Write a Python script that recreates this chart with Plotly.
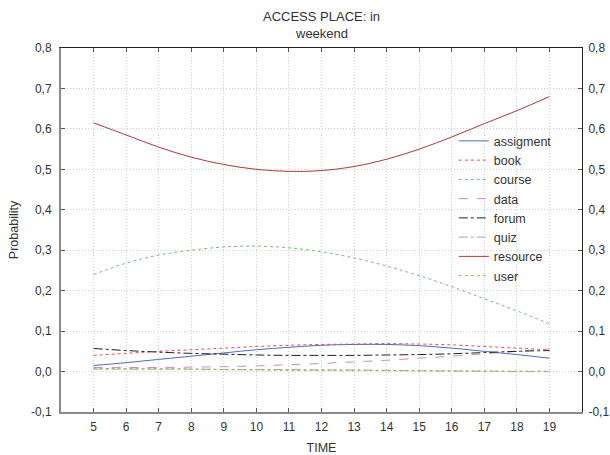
import plotly.graph_objects as go

# Hour of day
time = list(range(5, 20))

assigment = [0.015, 0.022, 0.030, 0.038, 0.046, 0.054, 0.060, 0.065, 0.067, 0.067, 0.064, 0.058, 0.050, 0.042, 0.033]
book      = [0.040, 0.045, 0.050, 0.054, 0.058, 0.062, 0.065, 0.067, 0.068, 0.069, 0.068, 0.066, 0.062, 0.058, 0.054]
course    = [0.240, 0.268, 0.288, 0.300, 0.308, 0.310, 0.306, 0.296, 0.281, 0.261, 0.237, 0.210, 0.180, 0.150, 0.118]
data      = [0.010, 0.010, 0.010, 0.011, 0.012, 0.014, 0.017, 0.020, 0.024, 0.028, 0.033, 0.038, 0.044, 0.050, 0.056]
forum     = [0.057, 0.052, 0.048, 0.045, 0.043, 0.041, 0.040, 0.040, 0.040, 0.041, 0.042, 0.044, 0.047, 0.050, 0.052]
quiz      = [0.006, 0.006, 0.006, 0.006, 0.005, 0.005, 0.005, 0.004, 0.004, 0.003, 0.002, 0.001, 0.001, 0.000, 0.000]
resource  = [0.615, 0.585, 0.555, 0.530, 0.512, 0.500, 0.495, 0.497, 0.507, 0.525, 0.550, 0.580, 0.613, 0.645, 0.680]
user      = [0.008, 0.007, 0.007, 0.006, 0.005, 0.004, 0.003, 0.003, 0.003, 0.002, 0.002, 0.002, 0.001, 0.001, 0.001]

y_ticks = [-0.1, 0.0, 0.1, 0.2, 0.3, 0.4, 0.5, 0.6, 0.7, 0.8]
y_labels = ["-0,1", "0,0", "0,1", "0,2", "0,3", "0,4", "0,5", "0,6", "0,7", "0,8"]

title_lines = ["ACCESS PLACE: in", "weekend"]

series = [
    ("assigment", assigment, "#4a6cc0", "solid"),
    ("book", book, "#f04848", "dot"),
    ("course", course, "#78bc78", "dot"),
    ("data", data, "#d488c8", "dash"),
    ("forum", forum, "#202020", "dashdot"),
    ("quiz", quiz, "#a8a8a8", "dashdot"),
    ("resource", resource, "#b03838", "solid"),
    ("user", user, "#b8a848", "dot"),
]

fig = go.Figure()
for name, vals, color, dash in series:
    fig.add_trace(go.Scatter(
        x=time, y=vals, name=name, mode="lines",
        line=dict(color=color, width=1, dash=dash, shape="spline"),
    ))

# transparent copy on the top/right axes so they get drawn
fig.add_trace(go.Scatter(
    x=time, y=resource, xaxis="x2", yaxis="y2", mode="lines", showlegend=False,
    hoverinfo="skip", line=dict(color="rgba(0,0,0,0)", width=0),
))

FONT = "Liberation Sans, Arial, sans-serif"
TXT = "#333333"
tick_font = dict(family=FONT, size=12, color=TXT)
grid = dict(showgrid=True, gridcolor="#cfcfcf", griddash="1px,2px", gridwidth=1)

fig.update_layout(
    width=610, height=455,
    margin=dict(l=61, r=28, t=48, b=43, autoexpand=False),
    paper_bgcolor="white", plot_bgcolor="white",
    font=dict(family=FONT, size=12.5, color=TXT),
    showlegend=True,
    legend=dict(x=0.754, y=0.785, xanchor="left", yanchor="top",
                bgcolor="rgba(0,0,0,0)", itemwidth=30,
                font=dict(size=12.5, color=TXT), tracegroupgap=0),
    xaxis=dict(
        range=[4, 20], tickvals=time, ticktext=[str(t) for t in time],
        title=dict(text="TIME", font=dict(size=12.5), standoff=11),
        **grid, automargin=False,
        zeroline=False, showline=True, linecolor="#8a8a8a", linewidth=2,
        ticks="inside", ticklen=4, tickcolor="#555555",
        tickfont=tick_font, ticklabelstandoff=3,
    ),
    xaxis2=dict(
        range=[4, 20], tickvals=time, overlaying="x", side="top",
        showticklabels=False, showgrid=False, zeroline=False, automargin=False,
        showline=True, linecolor="#222222", linewidth=1,
        ticks="inside", ticklen=4, tickcolor="#555555",
    ),
    yaxis=dict(
        range=[-0.1, 0.8], tickvals=y_ticks, ticktext=y_labels,
        title=dict(text="Probability", font=dict(size=12.5), standoff=10),
        **grid, automargin=False,
        zeroline=False, showline=True, linecolor="#8a8a8a", linewidth=2,
        ticks="inside", ticklen=4, tickcolor="#555555", tickfont=tick_font,
        ticklabelstandoff=5,
    ),
    yaxis2=dict(
        range=[-0.1, 0.8], tickvals=y_ticks, ticktext=y_labels,
        overlaying="y", side="right", showgrid=False, zeroline=False,
        automargin=False,
        showline=True, linecolor="#222222", linewidth=1,
        ticks="inside", ticklen=4, tickcolor="#555555", tickfont=tick_font,
        ticklabelstandoff=3,
    ),
)

# two-line heading above the plot
for text, ypix in zip(title_lines, [16.0, 33.5]):
    fig.add_annotation(
        text=text, xref="paper", yref="paper", x=0.5,
        y=(455 - 43 - ypix) / (455 - 48 - 43),
        xanchor="center", yanchor="middle", showarrow=False,
        font=dict(family=FONT, size=13, color=TXT),
    )

fig.write_html("out.html")
